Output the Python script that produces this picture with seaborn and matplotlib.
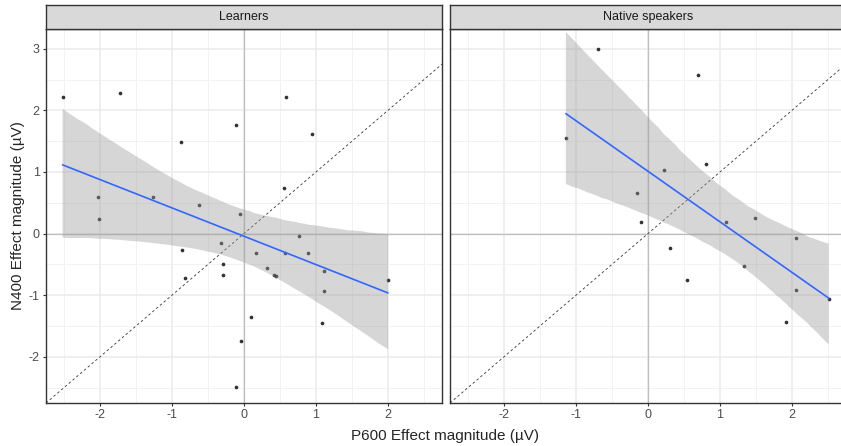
import numpy as np
import pandas as pd
import matplotlib
matplotlib.use("Agg")
import matplotlib.pyplot as plt
import seaborn as sns
from matplotlib.ticker import MultipleLocator

# values
learners_p600 = [-2.52, -1.72, 0.59, -0.11, -0.88, 0.95, 0.56, -2.03, -1.26, -2.01,
                 -0.63, -0.06, 0.77, -0.32, -0.86, 0.16, 0.57, 0.89, -0.29, 0.32,
                 -0.82, -0.29, 0.41, 0.44, 1.11, 2.00, 1.11, 0.10, 1.09, -0.04, -0.11]
learners_n400 = [2.22, 2.28, 2.22, 1.77, 1.48, 1.61, 0.74, 0.60, 0.60, 0.24,
                 0.47, 0.32, -0.04, -0.16, -0.27, -0.32, -0.31, -0.32, -0.50, -0.56,
                 -0.72, -0.68, -0.68, -0.69, -0.61, -0.76, -0.93, -1.35, -1.45, -1.74, -2.49]
native_p600 = [-0.70, 0.70, -1.14, 0.80, 0.22, -0.15, -0.10, 1.09,
               1.49, 2.05, 0.30, 1.34, 0.54, 2.05, 2.51, 1.92]
native_n400 = [2.99, 2.58, 1.55, 1.13, 1.03, 0.66, 0.18, 0.18,
               0.26, -0.08, -0.23, -0.53, -0.75, -0.91, -1.06, -1.43]

panel_titles = ["Learners", "Native speakers"]
x_ticks = [-2, -1, 0, 1, 2]
y_ticks = [-2, -1, 0, 1, 2, 3]
x_label = "P600 Effect magnitude (µV)"
y_label = "N400 Effect magnitude (µV)"
# bootstrap level per panel, widened a bit for the small samples
ci_levels = [97, 98]

sns.set_style("white")
plt.rcParams["font.family"] = ["Liberation Sans", "DejaVu Sans"]
plt.rcParams["axes.unicode_minus"] = False

df = pd.concat([
    pd.DataFrame({"p600": learners_p600, "n400": learners_n400, "group": panel_titles[0]}),
    pd.DataFrame({"p600": native_p600, "n400": native_n400, "group": panel_titles[1]}),
])

W, H = 841, 446
fig = plt.figure(figsize=(W / 100, H / 100), dpi=100)


def box(x0, y0, x1, y1):
    return [x0 / W, 1 - y1 / H, (x1 - x0) / W, (y1 - y0) / H]


for i, name in enumerate(panel_titles):
    left = 46 + 404 * i
    ax = fig.add_axes(box(left, 29, left + 396, 403))
    sub = df[df["group"] == name]

    ax.axhline(0, color="#BEBEBE", lw=0.9, zorder=1)
    ax.axvline(0, color="#BEBEBE", lw=0.9, zorder=1)
    ax.axline((0, 0), slope=1, ls=(0, (3, 3)), color="#333333", lw=0.6, zorder=2)

    sns.regplot(data=sub, x="p600", y="n400", ax=ax, ci=ci_levels[i], n_boot=4000, seed=3,
                scatter_kws=dict(s=7, color="black", linewidths=0, zorder=3),
                line_kws=dict(color="#3366FF", lw=1.2, zorder=5))
    band = ax.collections[-1]
    band.set_facecolor("#999999")
    band.set_alpha(0.4)
    band.set_edgecolor("none")
    band.set_zorder(4)

    ax.set_xlim(-2.75, 2.75)
    ax.set_ylim(-2.75, 3.32)
    ax.set_xticks(x_ticks)
    ax.set_yticks(y_ticks)
    ax.xaxis.set_minor_locator(MultipleLocator(0.5))
    ax.yaxis.set_minor_locator(MultipleLocator(0.5))
    ax.grid(which="major", color="#EBEBEB", lw=1.1)
    ax.grid(which="minor", color="#F2F2F2", lw=0.7)
    ax.set_axisbelow(True)
    ax.set_xlabel("")
    ax.set_ylabel("")
    ax.tick_params(which="major", length=2.5, width=0.8, color="#333333",
                   labelcolor="#4D4D4D", labelsize=9, pad=2,
                   bottom=True, left=(i == 0), labelleft=(i == 0))
    ax.tick_params(which="minor", length=0)
    for sp in ax.spines.values():
        sp.set_color("#333333")
        sp.set_linewidth(1.0)

    strip = fig.add_axes(box(left, 5, left + 396, 29))
    strip.set_facecolor("#D9D9D9")
    strip.set_xticks([])
    strip.set_yticks([])
    for sp in strip.spines.values():
        sp.set_color("#333333")
        sp.set_linewidth(1.0)
    strip.text(0.5, 0.5, name, ha="center", va="center", fontsize=9,
               color="#1A1A1A", transform=strip.transAxes)

fig.text(445 / W, 1 - 436 / H, x_label, ha="center", va="center", fontsize=11)
fig.text(18 / W, 1 - 216 / H, y_label, ha="center", va="center", rotation=90, fontsize=11)

fig.savefig("out.png", dpi=100)
